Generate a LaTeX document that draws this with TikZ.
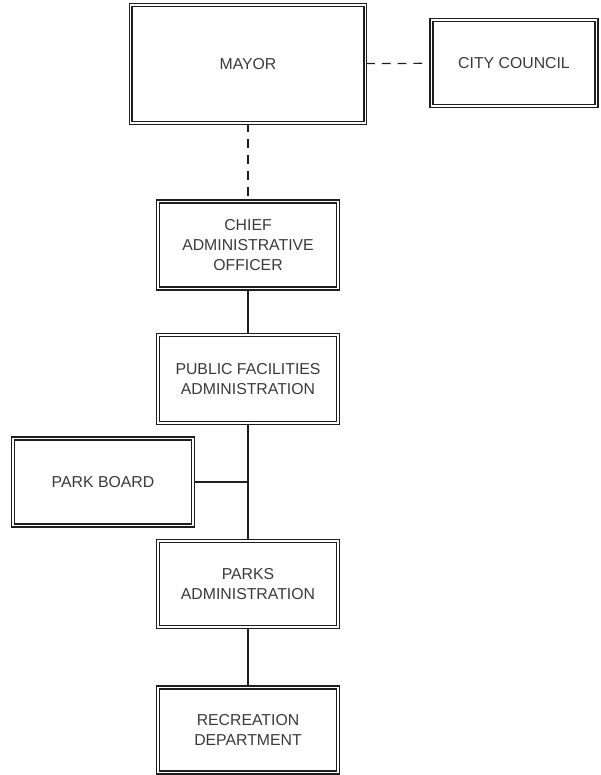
\documentclass[tikz,border=0pt]{standalone}
\usepackage{fontspec}
\setmainfont{Liberation Sans}
\usepackage{xcolor}
\definecolor{chartink}{HTML}{1E1E1E}
\definecolor{labelink}{HTML}{3A3A3A}

\begin{document}
\begin{tikzpicture}[x=0.02cm,y=-0.02cm,
  point/.style={coordinate},
  office/.style={draw=chartink, double=white, double distance=1.1pt, line width=0.6pt, rectangle, align=center, font=\fontsize{9}{11.5}\selectfont, text=labelink, inner sep=0pt},
  link/.style={draw=chartink, line width=0.7pt},
  dotted link/.style={link, dash pattern=on 5pt off 4pt}]
\useasboundingbox (0,0) rectangle (601,775);
\node[office, minimum width=4.7cm, minimum height=2.36cm] (0) at (248,64)  {MAYOR};
\node[office, minimum width=3.3cm, minimum height=1.72cm] (1) at (514,63)  {CITY COUNCIL};
\node[office, minimum width=3.6cm, minimum height=1.74cm] (2) at (248,245) {CHIEF\\ADMINISTRATIVE\\OFFICER};
\node[office, minimum width=3.6cm, minimum height=1.76cm] (3) at (248,379) {PUBLIC FACILITIES\\ADMINISTRATION};
\node[office, minimum width=3.6cm, minimum height=1.74cm] (4) at (103,482) {PARK BOARD};
\node[office, minimum width=3.6cm, minimum height=1.72cm] (5) at (248,584) {PARKS\\ADMINISTRATION};
\node[office, minimum width=3.6cm, minimum height=1.7cm]  (6) at (248,730) {RECREATION\\DEPARTMENT};
\node[point] (7) at (248,482) {};
\draw[dotted link] (0) -- (1);
\draw[dotted link] (0) -- (2);
\draw[link] (2) -- (3);
\draw[link] (3) -- (5);
\draw[link] (4) -- (7);
\draw[link] (5) -- (6);
\end{tikzpicture}
\end{document}
